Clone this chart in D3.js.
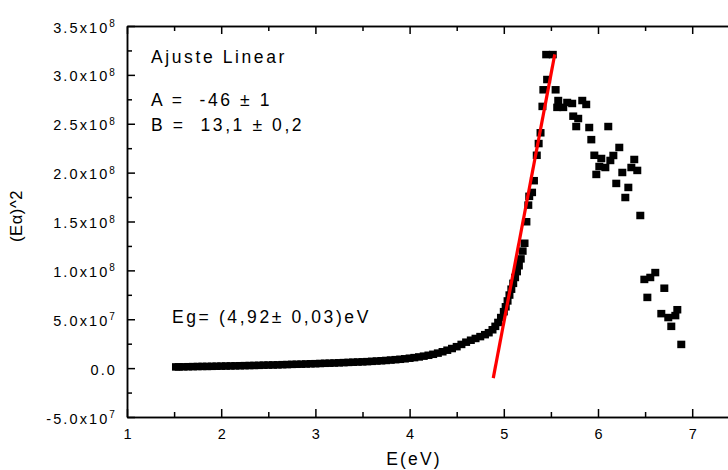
<!DOCTYPE html>
<html><head><meta charset="utf-8">
<script src="https://cdn.jsdelivr.net/npm/d3@7/dist/d3.min.js"></script>
<style>
html,body{margin:0;padding:0;background:#fff;}
svg{display:block;font-family:"Liberation Sans",Arial,sans-serif;}
text{white-space:pre;}
</style></head>
<body><svg id="c" width="728" height="470"></svg>
<script>
// ---- data ----
const energy = [1.52,1.55,1.60,1.65,1.70,1.75,1.80,1.85,1.90,1.95,2.00,2.05,2.10,2.15,2.20,2.25,2.30,2.35,2.40,2.45,2.50,2.55,2.60,2.65,2.70,2.75,2.80,2.85,2.90,2.95,3.00,3.05,3.10,3.15,3.20,3.25,3.30,3.35,3.40,3.45,3.50,3.55,3.60,3.65,3.70,3.75,3.80,3.85,3.90,3.95,4.00,4.05,4.10,4.15,4.20,4.25,4.30,4.35,4.40,4.45,4.50,4.55,4.60,4.65,4.70,4.75,4.80,4.84,4.88,4.91,4.94,4.97,5.00,5.02,5.04,5.06,5.08,5.10,5.12,5.14,5.16,5.18,5.20,5.22,5.24,5.26,5.27,5.30,5.32,5.35,5.37,5.39,5.41,5.42,5.46,5.45,5.52,5.55,
 5.578,5.673,5.726,5.567,5.631,5.833,5.875,5.737,5.790,5.769,5.907,6.109,5.929,6.226,5.961,6.035,6.163,6.131,6.014,6.078,5.982,6.385,6.354,6.417,6.258,6.194,6.322,6.290,6.449,6.608,6.555,6.492,6.704,6.524,6.672,6.746,6.842,6.821,6.778,6.884];
const alphaSq = [1.5e6,1.5e6,1.6e6,1.7e6,1.8e6,1.9e6,2.0e6,2.0e6,2.1e6,2.2e6,2.3e6,2.4e6,2.5e6,2.6e6,2.7e6,2.8e6,2.9e6,3.0e6,3.1e6,3.3e6,3.4e6,3.5e6,3.6e6,3.8e6,3.9e6,4.1e6,4.2e6,4.3e6,4.5e6,4.7e6,4.8e6,5.0e6,5.2e6,5.3e6,5.5e6,5.7e6,5.9e6,6.1e6,6.3e6,6.5e6,6.7e6,6.9e6,7.2e6,7.5e6,7.8e6,8.1e6,8.5e6,8.9e6,9.3e6,9.8e6,1.04e7,1.10e7,1.17e7,1.25e7,1.34e7,1.44e7,1.56e7,1.70e7,1.86e7,2.03e7,2.22e7,2.45e7,2.68e7,2.88e7,3.06e7,3.25e7,3.45e7,3.65e7,3.95e7,4.3e7,4.7e7,5.2e7,5.8e7,6.3e7,6.9e7,7.5e7,8.1e7,8.7e7,9.3e7,9.9e7,1.05e8,1.12e8,1.20e8,1.28e8,1.50e8,1.67e8,1.76e8,1.80e8,1.92e8,2.18e8,2.30e8,2.41e8,2.68e8,2.85e8,2.955e8,3.21e8,3.21e8,2.85e8,
 2.74e8,2.72e8,2.71e8,2.67e8,2.67e8,2.74e8,2.70e8,2.58e8,2.556e8,2.474e8,2.464e8,2.474e8,2.34e8,2.26e8,2.18e8,2.147e8,2.178e8,2.127e8,2.065e8,2.055e8,1.984e8,2.137e8,2.055e8,2.025e8,2.004e8,1.892e8,1.851e8,1.748e8,1.564e8,9.8e7,9.3e7,9.1e7,8.2e7,7.26e7,5.6e7,5.2e7,6.0e7,5.4e7,4.3e7,2.45e7];
const fitLine = [[4.888,-1.02e7],[5.541,3.21e8]];
const xTickValues = [1,2,3,4,5,6,7];
const xMinorValues = [1.5,2.5,3.5,4.5,5.5,6.5,7.5];
const yTickValues = [-5e7,0,5e7,1e8,1.5e8,2e8,2.5e8,3e8,3.5e8];
const yTickMantissa = ["-5.0x10","0.0","5.0x10","1.0x10","1.5x10","2.0x10","2.5x10","3.0x10","3.5x10"];
const yTickExponent = ["7","","7","8","8","8","8","8","8"];
const yMinorValues = [-2.5e7,2.5e7,7.5e7,1.25e8,1.75e8,2.25e8,2.75e8,3.25e8];
const annotations = [
  {t:"Ajuste Linear", x:151, y:63},
  {t:"A =  -46 ± 1", x:151, y:106},
  {t:"B =  13,1 ± 0,2", x:151, y:131},
  {t:"Eg= (4,92± 0,03)eV", x:172, y:323}
];

// ---- chart ----
const svg = d3.select("#c");
const L = 127, T = 26, B = 417, unit = 94.2;
const x = d3.scaleLinear().domain([1,7.5]).range([L, L + 6.5*unit]);
const y = d3.scaleLinear().domain([-5e7,3.5e8]).range([B, T]);

const pts = energy.map((e,i)=>[e, alphaSq[i]]);
svg.append("g").selectAll("rect").data(pts).join("rect")
  .attr("x", d=>x(d[0])-4).attr("y", d=>y(d[1])-3.5)
  .attr("width",8).attr("height",7.5).attr("fill","#000");

svg.append("path").datum(fitLine)
  .attr("d", d3.line().x(d=>x(d[0])).y(d=>y(d[1])))
  .attr("stroke","#ff0000").attr("stroke-width",3.2).attr("fill","none");

function styleAxis(g){
  g.selectAll("path.domain").attr("stroke","#000").attr("stroke-width",1.5);
  g.selectAll(".tick line").attr("stroke","#000").attr("stroke-width",1.5);
}
// bottom
const gb = svg.append("g").attr("transform",`translate(0,${B})`)
  .call(d3.axisBottom(x).tickValues(xTickValues).tickSize(-8).tickSizeOuter(0).tickPadding(12).tickFormat(d3.format("d")));
styleAxis(gb);
gb.selectAll("text").attr("font-size",14.5).attr("fill","#000").attr("font-family","Liberation Sans, Arial");
const gbm = svg.append("g").attr("transform",`translate(0,${B})`)
  .call(d3.axisBottom(x).tickValues(xMinorValues).tickSize(-5).tickSizeOuter(0).tickFormat(""));
styleAxis(gbm);
// top
const gt = svg.append("g").attr("transform",`translate(0,${T})`)
  .call(d3.axisTop(x).tickValues(xTickValues).tickSize(-8).tickSizeOuter(0).tickFormat(""));
styleAxis(gt);
const gtm = svg.append("g").attr("transform",`translate(0,${T})`)
  .call(d3.axisTop(x).tickValues(xMinorValues).tickSize(-5).tickSizeOuter(0).tickFormat(""));
styleAxis(gtm);
// left
const gl = svg.append("g").attr("transform",`translate(${L},0)`)
  .call(d3.axisLeft(y).tickValues(yTickValues).tickSize(-8).tickSizeOuter(0).tickPadding(10).tickFormat(""));
styleAxis(gl);
gl.selectAll(".tick text").each(function(d){
  const i = yTickValues.indexOf(d);
  const t = d3.select(this).attr("font-size",14.5).attr("fill","#000").attr("letter-spacing",2.1)
     .attr("font-family","Liberation Sans, Arial").attr("dy","0.42em");
  t.append("tspan").text(yTickMantissa[i]);
  if (yTickExponent[i]) t.append("tspan").attr("dy","-0.55em").attr("font-size",10).text(yTickExponent[i]);
});
const glm = svg.append("g").attr("transform",`translate(${L},0)`)
  .call(d3.axisLeft(y).tickValues(yMinorValues).tickSize(-5).tickSizeOuter(0).tickFormat(""));
styleAxis(glm);

// titles
svg.append("text").attr("x", 414).attr("y", 465).attr("text-anchor","middle")
  .attr("font-size",17.5).attr("letter-spacing",2.2).text("E(eV)");
svg.append("text").attr("transform","translate(22,216) rotate(-90)").attr("text-anchor","middle")
  .attr("font-size",16.5).attr("letter-spacing",0.6).text("(Eα)^2");

svg.append("g").selectAll("text").data(annotations).join("text")
  .attr("x",d=>d.x).attr("y",d=>d.y).attr("font-size",17.5).attr("letter-spacing",2.6)
  .attr("fill","#000").text(d=>d.t);
</script></body></html>
